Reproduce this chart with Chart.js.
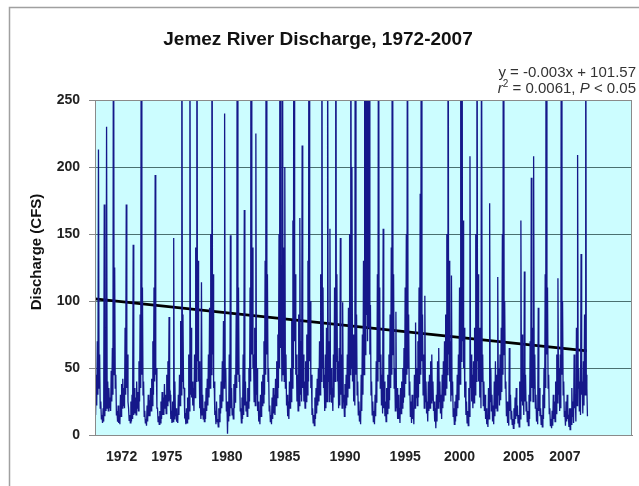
<!DOCTYPE html>
<html>
<head>
<meta charset="utf-8">
<script src="https://cdn.jsdelivr.net/npm/chart.js@4.4.0/dist/chart.umd.min.js"></script>
<style>
  html, body { margin: 0; padding: 0; background: #fff; }
</style>
</head>
<body>
<canvas id="myChart" width="639" height="486"></canvas>
<script>
// monthly peak discharge (cfs), one row per 12 months
const monthlyHigh = [
  30, 45, 70, 213, 60, 25, 15, 20, 172, 55, 230, 40,
  35, 28, 48, 65, 420, 125, 45, 18, 22, 14, 30, 38,
  42, 35, 80, 172, 60, 20, 15, 25, 30, 142, 35, 28,
  40, 32, 55, 90, 380, 110, 40, 18, 12, 22, 30, 26,
  35, 42, 70, 110, 194, 50, 20, 14, 18, 25, 32, 28,
  38, 30, 45, 55, 88, 30, 18, 25, 147, 40, 20, 15,
  30, 45, 85, 450, 90, 35, 15, 20, 28, 60, 330, 80,
  40, 35, 60, 140, 520, 130, 55, 25, 114, 30, 20, 25,
  35, 42, 60, 95, 150, 600, 120, 40, 18, 25, 12, 20,
  30, 40, 55, 85, 240, 50, 25, 25, 60, 149, 35, 20,
  38, 45, 90, 480, 110, 45, 20, 28, 60, 168, 40, 25,
  35, 50, 110, 700, 140, 60, 80, 225, 50, 25, 18, 30,
  40, 45, 70, 130, 500, 120, 50, 22, 15, 28, 35, 30,
  42, 55, 75, 150, 600, 95, 350, 140, 200, 60, 30, 25,
  40, 50, 85, 160, 650, 120, 60, 45, 90, 162, 70, 216,
  60, 40, 55, 75, 130, 550, 100, 45, 20, 15, 28, 35,
  42, 50, 70, 120, 400, 110, 45, 60, 80, 330, 70, 154,
  50, 35, 60, 110, 600, 120, 55, 65, 147, 60, 99, 30,
  38, 45, 60, 95, 150, 420, 200, 75, 60, 500, 90, 40,
  25, 18, 45, 75, 130, 450, 800, 300, 650, 380, 97, 40,
  25, 18, 30, 55, 120, 430, 110, 60, 45, 154, 40, 25,
  35, 45, 60, 90, 140, 550, 120, 50, 92, 35, 30, 20,
  35, 40, 50, 65, 110, 150, 380, 90, 40, 25, 30, 20,
  45, 84, 50, 70, 110, 180, 450, 90, 60, 104, 40, 25,
  40, 45, 55, 60, 40, 25, 20, 30, 55, 65, 40, 30,
  45, 55, 70, 90, 150, 600, 130, 70, 119, 40, 20, 25,
  30, 45, 60, 110, 320, 650, 160, 80, 40, 25, 18, 35,
  208, 60, 45, 55, 80, 150, 500, 120, 80, 55, 340, 60,
  40, 30, 20, 15, 35, 173, 50, 30, 22, 40, 55, 45,
  118, 50, 60, 80, 150, 600, 100, 40, 25, 20, 65, 30,
  18, 12, 20, 28, 35, 22, 15, 40, 160, 75, 40, 122,
  45, 25, 18, 30, 70, 192, 80, 208, 60, 30, 20, 95,
  35, 20, 15, 30, 50, 120, 800, 110, 45, 20, 12, 18,
  30, 25, 40, 60, 117, 50, 60, 450, 100, 40, 18, 25,
  30, 15, 20, 20, 35, 25, 60, 30, 80, 209, 50, 40,
  135, 40, 55, 90, 400, 35
];

// monthly low discharge (cfs), same months
const monthlyLow = [
  15, 22, 30, 35, 20, 12, 9, 10, 14, 18, 20, 18,
  20, 18, 25, 30, 45, 35, 15, 10, 9, 8, 14, 20,
  22, 20, 30, 35, 25, 11, 9, 10, 12, 15, 16, 15,
  20, 18, 25, 35, 45, 30, 14, 9, 7, 10, 14, 14,
  18, 22, 30, 40, 45, 20, 10, 8, 9, 12, 15, 15,
  20, 16, 22, 25, 28, 12, 9, 10, 12, 14, 10, 9,
  15, 22, 30, 40, 35, 14, 8, 9, 12, 18, 30, 28,
  22, 18, 28, 40, 55, 40, 20, 12, 15, 12, 10, 12,
  18, 22, 28, 35, 45, 60, 35, 15, 8, 10, 6, 10,
  16, 20, 25, 35, 40, 18, 1, 10, 14, 20, 15, 12,
  20, 24, 35, 45, 40, 18, 9, 12, 15, 22, 18, 14,
  20, 25, 40, 60, 50, 25, 22, 30, 18, 10, 8, 14,
  22, 24, 30, 45, 60, 40, 18, 10, 8, 12, 16, 15,
  22, 28, 35, 50, 65, 40, 45, 40, 35, 22, 14, 12,
  20, 25, 35, 50, 70, 45, 25, 18, 22, 30, 25, 35,
  25, 20, 25, 30, 40, 55, 35, 15, 9, 7, 12, 16,
  22, 25, 30, 40, 50, 35, 18, 20, 25, 40, 25, 30,
  24, 18, 28, 40, 55, 40, 20, 22, 30, 20, 25, 14,
  20, 22, 28, 35, 45, 50, 40, 25, 22, 45, 30, 15,
  10, 8, 18, 30, 45, 60, 90, 70, 80, 60, 30, 15,
  10, 8, 14, 24, 40, 55, 35, 22, 16, 20, 14, 10,
  16, 20, 26, 35, 45, 60, 35, 18, 20, 12, 12, 9,
  16, 20, 24, 28, 38, 45, 50, 30, 14, 9, 12, 8,
  20, 28, 22, 28, 38, 45, 55, 30, 20, 25, 16, 10,
  18, 20, 24, 26, 18, 10, 5, 10, 20, 25, 16, 12,
  20, 25, 30, 35, 45, 60, 40, 25, 30, 14, 8, 10,
  14, 20, 26, 38, 55, 70, 50, 28, 15, 9, 7, 14,
  35, 25, 20, 24, 30, 40, 55, 40, 28, 20, 40, 22,
  18, 12, 8, 6, 12, 25, 18, 10, 8, 14, 20, 18,
  30, 22, 26, 32, 45, 60, 35, 14, 9, 7, 18, 12,
  8, 5, 8, 12, 14, 9, 6, 12, 25, 22, 15, 25,
  18, 10, 7, 12, 25, 35, 25, 35, 20, 10, 8, 18,
  14, 8, 6, 12, 20, 35, 60, 35, 16, 7, 5, 7,
  12, 10, 16, 24, 30, 18, 20, 45, 30, 14, 7, 10,
  12, 6, 4, 8, 14, 9, 20, 10, 22, 35, 18, 15,
  30, 16, 22, 30, 45, 14
];

// x axis labels and where they sit (month index)
const tickYears = ['1972', '1975', '1980', '1985', '1990', '1995', '2000', '2005', '2007'];
const tickMonths = [23, 62, 114, 164, 216, 268, 315, 366, 406];

// trend line from the fitted equation (x in days)
const slope = -0.003;
const intercept = 101.57;
const daysPerMonth = 30.44;

const PLOT_BG = '#ccfdff';
const FONT = "'Liberation Sans', Arial, sans-serif";

// peak at start of month, low half a month later
let flowPoints = [];
monthlyHigh.forEach((v, i) => {
    flowPoints.push({ x: i, y: v });
    flowPoints.push({ x: i + 0.5, y: monthlyLow[i] });
});
const lastMonth = monthlyHigh.length - 1;
const trendPoints = [0, lastMonth].map(m => ({ x: m, y: intercept + slope * m * daysPerMonth }));

const decorations = {
    id: 'decorations',
    beforeDraw(chart) {
        const { ctx, chartArea: a } = chart;
        ctx.save();
        ctx.fillStyle = '#fff';
        ctx.fillRect(0, 0, chart.width, chart.height);
        ctx.strokeStyle = '#a0a0a0';
        ctx.lineWidth = 1.5;
        ctx.strokeRect(9.5, 7.5, 800, 800);
        ctx.fillStyle = PLOT_BG;
        ctx.fillRect(a.left, a.top, a.right - a.left, a.bottom - a.top);
        ctx.restore();
    },
    afterDraw(chart) {
        const { ctx, chartArea: a } = chart;
        ctx.save();
        // plot border
        ctx.strokeStyle = '#8a8a8a';
        ctx.lineWidth = 1;
        ctx.strokeRect(a.left + 0.5, a.top + 0.5, a.right - a.left - 1, a.bottom - a.top);

        // title
        ctx.fillStyle = '#111';
        ctx.textAlign = 'center';
        ctx.textBaseline = 'middle';
        ctx.font = 'bold 19px ' + FONT;
        ctx.fillText('Jemez River Discharge, 1972-2007', 318, 40);

        // y axis title
        ctx.save();
        ctx.translate(37, 252);
        ctx.rotate(-Math.PI / 2);
        ctx.font = 'bold 15px ' + FONT;
        ctx.fillText('Discharge (CFS)', 0, 0);
        ctx.restore();

        // equation, right aligned
        const right = 636;
        ctx.fillStyle = '#333';
        ctx.textAlign = 'right';
        ctx.font = '15px ' + FONT;
        ctx.fillText('y = -0.003x + 101.57', right, 73);

        const parts = [
            { t: 'r', f: 'italic 15px ' + FONT, dy: 0 },
            { t: '2', f: '10px ' + FONT, dy: -5 },
            { t: ' = 0.0061, ', f: '15px ' + FONT, dy: 0 },
            { t: 'P', f: 'italic 15px ' + FONT, dy: 0 },
            { t: ' < 0.05', f: '15px ' + FONT, dy: 0 }
        ];
        let total = 0;
        parts.forEach(p => { ctx.font = p.f; p.w = ctx.measureText(p.t).width; total += p.w; });
        let x = right - total;
        ctx.textAlign = 'left';
        parts.forEach(p => {
            ctx.font = p.f;
            ctx.fillText(p.t, x, 89 + p.dy);
            x += p.w;
        });
        ctx.restore();
    }
};

new Chart(document.getElementById('myChart'), {
    type: 'line',
    data: {
        datasets: [
            {
                label: 'Discharge',
                data: flowPoints,
                borderColor: '#15188a',
                borderWidth: 1.3,
                pointRadius: 0,
                tension: 0
            },
            {
                label: 'Trend',
                data: trendPoints,
                borderColor: '#000',
                borderWidth: 2.6,
                pointRadius: 0,
                tension: 0
            }
        ]
    },
    options: {
        responsive: false,
        animation: false,
        events: [],
        layout: { padding: { left: 0, top: 100, right: 7, bottom: 0 } },
        plugins: {
            legend: { display: false },
            title: { display: false },
            tooltip: { enabled: false }
        },
        scales: {
            x: {
                type: 'linear',
                min: 0,
                max: 464,
                afterFit(scale) { scale.height = 51; },
                afterBuildTicks(scale) {
                    scale.ticks = tickMonths.map(v => ({ value: v }));
                },
                grid: { display: false, drawTicks: false },
                border: { display: true, color: '#8a8a8a' },
                ticks: {
                    autoSkip: false,
                    maxRotation: 0,
                    padding: 14,
                    color: '#222',
                    font: { family: FONT, size: 14, weight: 'bold' },
                    callback(value) {
                        const i = tickMonths.indexOf(value);
                        return i >= 0 ? tickYears[i] : '';
                    }
                }
            },
            y: {
                min: 0,
                max: 250,
                afterFit(scale) { scale.width = 95; },
                grid: {
                    color: '#4a7070',
                    lineWidth: 1,
                    tickLength: 6,
                    tickColor: '#8a8a8a'
                },
                border: { display: true, color: '#8a8a8a' },
                ticks: {
                    stepSize: 50,
                    padding: 9,
                    color: '#222',
                    font: { family: FONT, size: 14, weight: 'bold' }
                }
            }
        }
    },
    plugins: [decorations]
});
</script>
</body>
</html>
